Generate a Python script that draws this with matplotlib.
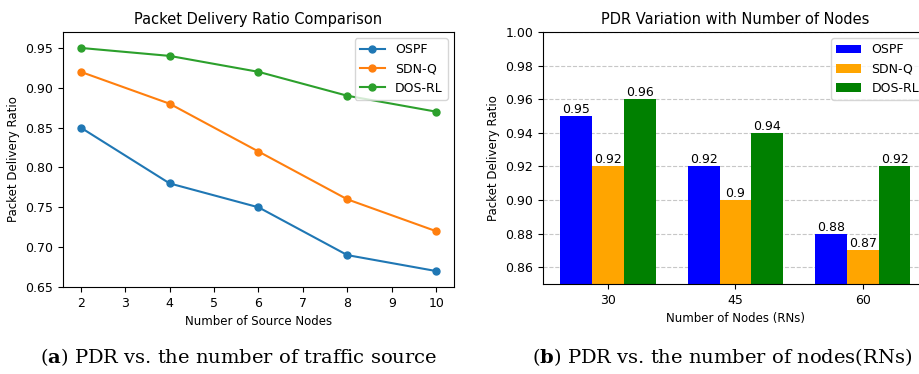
import numpy as np
import matplotlib.pyplot as plt

plt.rcParams["mathtext.fontset"] = "dejavuserif"

# (a) PDR vs number of traffic sources
sources = [2, 4, 6, 8, 10]
pdr_ospf = [0.85, 0.78, 0.75, 0.69, 0.67]
pdr_sdnq = [0.92, 0.88, 0.82, 0.76, 0.72]
pdr_dosrl = [0.95, 0.94, 0.92, 0.89, 0.87]

# (b) PDR vs number of nodes
node_counts = ["30", "45", "60"]
bar_ospf = [0.95, 0.92, 0.88]
bar_sdnq = [0.92, 0.90, 0.87]
bar_dosrl = [0.96, 0.94, 0.92]

fig = plt.figure(figsize=(9.2, 3.74), dpi=100)
W, H = 920, 374

def px_axes(l, t, r, b):
    return fig.add_axes([l / W, 1 - b / H, (r - l) / W, (b - t) / H])

TICK = 9
LAB = 8.5
LEG = 9
TTL = 10.5

# left panel
ax1 = px_axes(63, 32, 454, 287)
ax1.plot(sources, pdr_ospf, marker="o", ms=5, label="OSPF")
ax1.plot(sources, pdr_sdnq, marker="o", ms=5, label="SDN-Q")
ax1.plot(sources, pdr_dosrl, marker="o", ms=5, label="DOS-RL")
ax1.set_ylim(0.65, 0.97)
ax1.set_title("Packet Delivery Ratio Comparison", fontsize=TTL)
ax1.set_xlabel("Number of Source Nodes", fontsize=LAB)
ax1.set_ylabel("Packet Delivery Ratio", fontsize=LAB)
ax1.tick_params(labelsize=TICK)
ax1.legend(loc="upper right", fontsize=LEG)

# right panel (cut off at the right edge)
ax2 = px_axes(543, 32, 928, 284)
x = np.arange(len(node_counts))
w = 0.25
b1 = ax2.bar(x - w, bar_ospf, w, color="blue", label="OSPF")
b2 = ax2.bar(x, bar_sdnq, w, color="orange", label="SDN-Q")
b3 = ax2.bar(x + w, bar_dosrl, w, color="green", label="DOS-RL")
for b in (b1, b2, b3):
    ax2.bar_label(b, fontsize=TICK)
ax2.set_xticks(x)
ax2.set_xticklabels(node_counts)
ax2.set_ylim(0.85, 1.0)
ax2.yaxis.grid(True, linestyle="--", alpha=0.7)
ax2.set_axisbelow(True)
ax2.set_title("PDR Variation with Number of Nodes", fontsize=TTL)
ax2.set_xlabel("Number of Nodes (RNs)", fontsize=LAB)
ax2.set_ylabel("Packet Delivery Ratio", fontsize=LAB)
ax2.tick_params(labelsize=TICK)
ax2.legend(loc="upper right", fontsize=LEG, bbox_to_anchor=(1.006, 1.0))

# captions
fig.text(239 / W, 1 - 357 / H, r"($\mathbf{a}$) PDR vs. the number of traffic source",
         ha="center", va="center", family="DejaVu Serif", fontsize=14)
fig.text(722 / W, 1 - 357 / H, r"($\mathbf{b}$) PDR vs. the number of nodes(RNs)",
         ha="center", va="center", family="DejaVu Serif", fontsize=14)

fig.savefig("out.png", dpi=100)
